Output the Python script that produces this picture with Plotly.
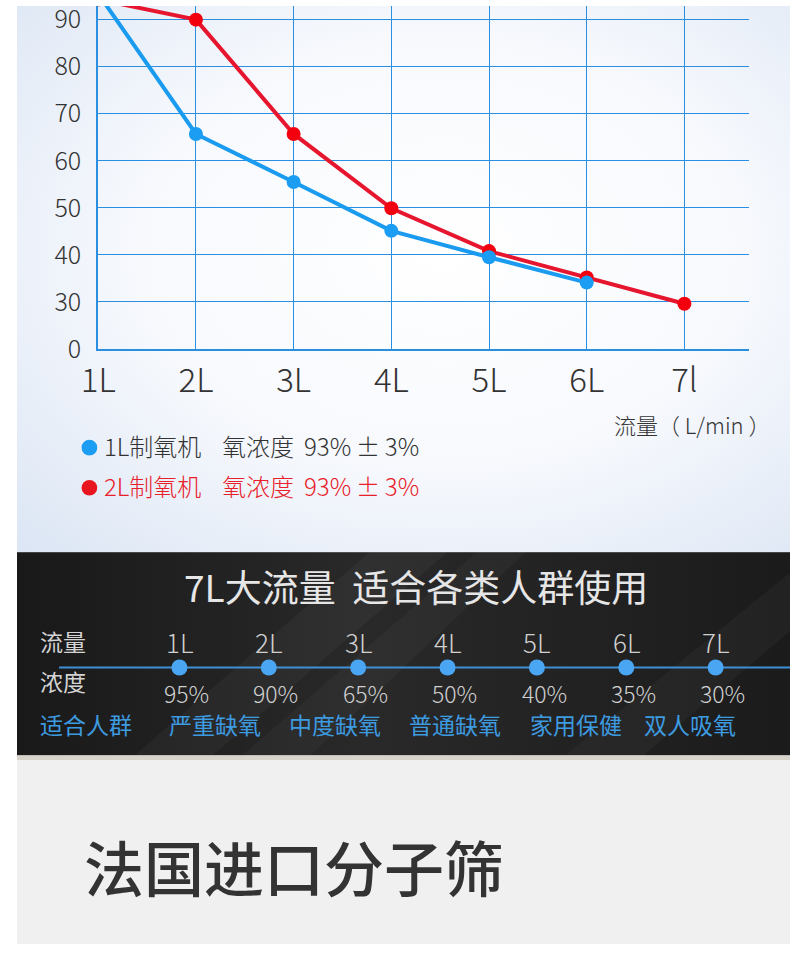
import base64
import plotly.graph_objects as go

# ---------------- data ----------------
flows = [1, 2, 3, 4, 5, 6, 7]
flow_tick_labels = ["1L", "2L", "3L", "4L", "5L", "6L", "7l"]
blue_conc = [95.5, 65.7, 55.5, 45.1, 39.5, 34.1]          # 1L制氧机 (1L..6L)
red_conc = [94.3, 90.0, 65.7, 49.9, 40.8, 35.2, 29.6]     # 2L制氧机 (1L..7L)
y_tick_vals = [20, 30, 40, 50, 60, 70, 80, 90]
y_tick_text = ["0", "30", "40", "50", "60", "70", "80", "90"]

table_flow_labels = ["1L", "2L", "3L", "4L", "5L", "6L", "7L"]
table_conc = [95, 90, 65, 50, 40, 35, 30]
groups = ["严重缺氧", "中度缺氧", "普通缺氧", "家用保健", "双人吸氧"]

legend_rows = [
    ("1L制氧机", "氧浓度", "93%\u2009±\u20093%"),
    ("2L制氧机", "氧浓度", "93%\u2009±\u20093%"),
]

# ---------------- style ----------------
W, H = 790, 960
BLUE_LINE = "#1a9bf0"
BLUE_DOT = "#1a9df2"
RED_LINE = "#e6162e"
RED_DOT = "#f3000f"
GRID = "#2a8fe0"
TXT = "#333333"
RED_TXT = "#e8202a"
FONT = "Noto Sans CJK SC"
TBL_BLUE = "#3d9be0"


def px(x):
    return x / W


def py(y):
    return 1 - y / H


svg = f'''<svg xmlns="http://www.w3.org/2000/svg" width="{W}" height="{H}" viewBox="0 0 {W} {H}" preserveAspectRatio="none">
<defs>
<radialGradient id="g1" cx="0.55" cy="0.45" r="0.78">
<stop offset="0" stop-color="#ffffff"/>
<stop offset="0.5" stop-color="#f7f9fd"/>
<stop offset="1" stop-color="#dbe5f4"/>
</radialGradient>
<linearGradient id="g2" x1="0" y1="0" x2="1" y2="0">
<stop offset="0" stop-color="#19191a"/>
<stop offset="0.45" stop-color="#29292a"/>
<stop offset="1" stop-color="#1b1b1c"/>
</linearGradient>
</defs>
<rect x="0" y="0" width="{W}" height="559" fill="url(#g1)"/>
<rect x="0" y="559" width="{W}" height="208" fill="url(#g2)"/>
<polygon points="120,767 200,767 440,559 360,559" fill="#ffffff" fill-opacity="0.035"/>
<polygon points="230,767 300,767 520,559 470,559" fill="#ffffff" fill-opacity="0.03"/>
<polygon points="560,767 640,767 790,640 790,580" fill="#ffffff" fill-opacity="0.03"/>
<rect x="0" y="767" width="{W}" height="5" fill="#d8d3cb"/>
<rect x="0" y="772" width="{W}" height="{H-772}" fill="#f0f0f0"/>
</svg>'''
src = "data:image/svg+xml;base64," + base64.b64encode(svg.encode()).decode()

fig = go.Figure()

fig.add_trace(go.Scatter(
    x=flows[:len(red_conc)], y=red_conc, mode="lines+markers",
    line=dict(color=RED_LINE, width=4),
    marker=dict(color=RED_DOT, size=14),
    xaxis="x", yaxis="y", showlegend=False, hoverinfo="skip"))
fig.add_trace(go.Scatter(
    x=flows[:len(blue_conc)], y=blue_conc, mode="lines+markers",
    line=dict(color=BLUE_LINE, width=4),
    marker=dict(color=BLUE_DOT, size=14),
    xaxis="x", yaxis="y", showlegend=False, hoverinfo="skip"))

# table dots in the dark band
fig.add_trace(go.Scatter(
    x=flows, y=[0] * len(flows), mode="markers",
    marker=dict(color="#4aa6f2", size=16),
    xaxis="x2", yaxis="y2", showlegend=False, hoverinfo="skip"))

annotations = []

# axis title
annotations.append(dict(x=px(608), y=py(428), xref="paper", yref="paper",
                        text="流量（ L/min ）", showarrow=False, xanchor="left", yanchor="middle",
                        font=dict(family=FONT, size=22, color=TXT, weight=300)))

# legend
shapes = []
for i, (row, color, dot) in enumerate(zip(legend_rows, [TXT, RED_TXT], [BLUE_DOT, "#e8151f"])):
    yc = 452 + i * 41
    shapes.append(dict(type="circle", xref="paper", yref="paper",
                       x0=px(66), x1=px(82), y0=py(yc + 8), y1=py(yc - 8),
                       fillcolor=dot, line=dict(width=0)))
    for txt, xl in zip(row, [87, 207, 291]):
        annotations.append(dict(x=px(xl), y=py(yc - 2), xref="paper", yref="paper", text=txt,
                                showarrow=False, xanchor="left", yanchor="middle",
                                font=dict(family=FONT, size=24, color=color, weight=300)))

# band: horizontal line
shapes.append(dict(type="line", xref="paper", yref="paper", x0=px(43), x1=1,
                   y0=py(677), y1=py(677), line=dict(color="#3f8fd6", width=2), layer="below"))

# band title
annotations.append(dict(x=px(408), y=py(594), xref="paper", yref="paper",
                        text="7L大流量  适合各类人群使用", showarrow=False,
                        xanchor="center", yanchor="middle",
                        font=dict(family=FONT, size=37, color="#e6e6e6")))
# row labels
for txt, yc, col in [("流量", 650, "#d4d4d4"), ("浓度", 691, "#d4d4d4"), ("适合人群", 735, TBL_BLUE)]:
    annotations.append(dict(x=px(21), y=py(yc), xref="paper", yref="paper", text=txt,
                            showarrow=False, xanchor="left", yanchor="middle",
                            font=dict(family=FONT, size=23, color=col)))
# flow labels and concentrations
for f, lab, c in zip(flows, table_flow_labels, table_conc):
    annotations.append(dict(x=f, y=py(650), xref="x2", yref="paper", text=lab,
                            showarrow=False, xanchor="center", yanchor="middle",
                            font=dict(family=FONT, size=26, color="#d0d0d0", weight=300)))
    annotations.append(dict(x=f + 0.08, y=py(703), xref="x2", yref="paper", text=f"{c}%",
                            showarrow=False, xanchor="center", yanchor="middle",
                            font=dict(family=FONT, size=23, color="#d0d0d0", weight=300)))
# groups
group_x = [202, 325, 448, 571, 688]
for g, gx in zip(groups, group_x):
    annotations.append(dict(x=px(gx), y=py(735), xref="paper", yref="paper", text=g,
                            showarrow=False, xanchor="center", yanchor="middle",
                            font=dict(family=FONT, size=23, color=TBL_BLUE)))

# bottom heading
annotations.append(dict(x=px(66), y=py(880), xref="paper", yref="paper", text="法国进口分子筛",
                        showarrow=False, xanchor="left", yanchor="middle",
                        font=dict(family=FONT, size=60, color="#333333", weight=500)))

x2_unit = (714 - 166) / 6.0

fig.update_layout(
    width=W, height=H,
    autosize=False,
    margin=dict(l=0, r=0, t=0, b=0, pad=0),
    paper_bgcolor="#ffffff",
    plot_bgcolor="rgba(0,0,0,0)",
    images=[dict(source=src, xref="paper", yref="paper", x=0, y=1, sizex=1, sizey=1,
                 xanchor="left", yanchor="top", sizing="stretch", layer="below")],
    xaxis=dict(domain=[px(83), px(748)], range=[1, 7.66],
               tickvals=flows, ticktext=flow_tick_labels,
               showgrid=True, gridcolor=GRID, gridwidth=1,
               showline=True, linecolor=GRID, linewidth=2, zeroline=False,
               ticks="", ticklabelstandoff=1, ticklabeloverflow="allow",
               tickfont=dict(family=FONT, size=33, color=TXT, weight=300),
               fixedrange=True),
    yaxis=dict(domain=[py(351), 1], range=[20, 92.9],
               tickvals=y_tick_vals, ticktext=y_tick_text,
               showgrid=True, gridcolor=GRID, gridwidth=1,
               showline=True, linecolor=GRID, linewidth=2, zeroline=False,
               ticks="", ticklabelstandoff=10, ticklabeloverflow="allow",
               tickfont=dict(family=FONT, size=25, color=TXT, weight=300),
               fixedrange=True),
    xaxis2=dict(domain=[0, 1], range=[1 - 166 / x2_unit, 7 + (W - 714) / x2_unit],
                visible=False, fixedrange=True, anchor="y2"),
    yaxis2=dict(domain=[py(767), py(559)], range=[-90, 118],
                visible=False, fixedrange=True, anchor="x2"),
    annotations=annotations,
    shapes=shapes,
)

fig.write_html(
    "out.html",
    config={"responsive": False, "displayModeBar": False},
    post_script="document.body.style.margin='0';document.body.style.padding='0';"
                "document.body.style.overflow='hidden';"
                "document.documentElement.style.overflow='hidden';",
)
